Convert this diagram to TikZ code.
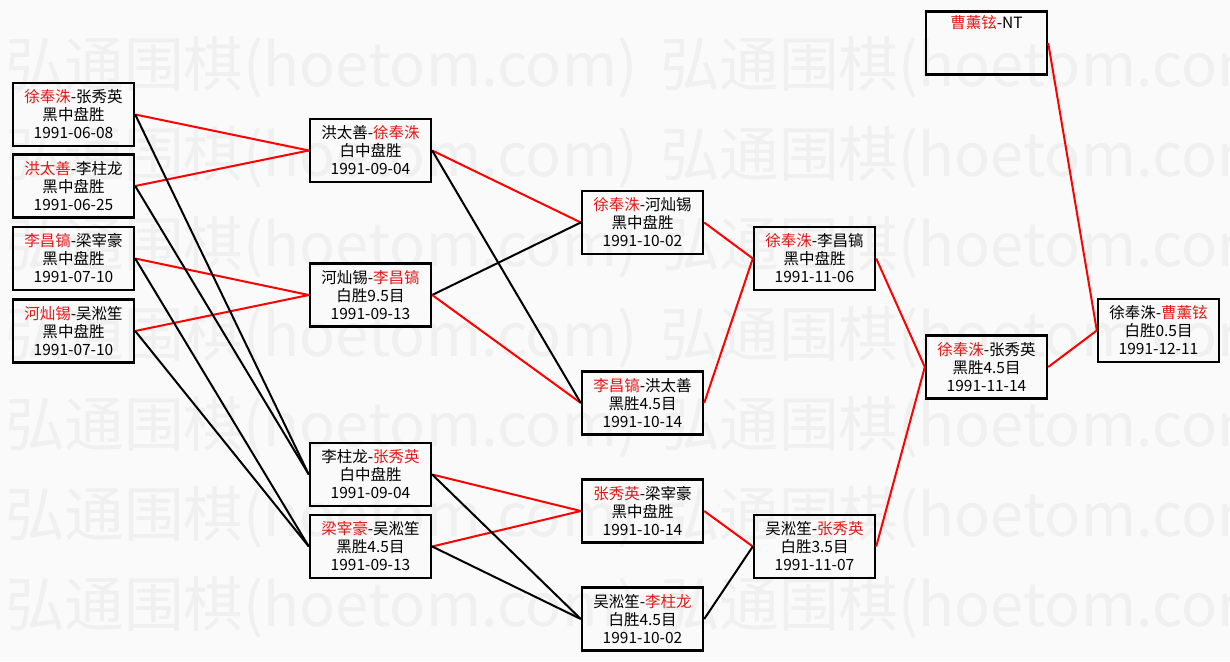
\documentclass[tikz,border=0pt]{standalone}
\usepackage{fontspec}
\newfontfamily\cjk{Noto Sans CJK SC}
\definecolor{bg}{RGB}{250,250,250}
\definecolor{wmark}{RGB}{240,240,240}
\definecolor{wred}{RGB}{255,0,0}
\definecolor{tred}{RGB}{228,24,24}
\newcommand{\R}[1]{\textcolor{tred}{#1}}
\begin{document}
\begin{tikzpicture}[x=1pt,y=-1pt,
  game/.style={draw=black, line width=2.4pt, minimum width=121pt, minimum height=63pt,
    inner sep=0pt, align=center, font=\cjk\fontsize{15.5}{18}\selectfont},
  winline/.style={draw=wred, line width=2pt},
  loseline/.style={draw=black, line width=2pt},
  wmtext/.style={anchor=west, text=wmark, inner sep=0pt, font=\cjk}]
\fill[bg] (0,0) rectangle (1230,661);
\useasboundingbox (0,0) rectangle (1230,661);
\clip (0,0) rectangle (1230,661);
% watermark
\foreach \r in {0,...,6}{
  \foreach \c in {0,1}{
    \node[wmtext] (wm-\r-\c) at (5+655*\c, 67+90*\r) {\resizebox{632pt}{!}{弘通围棋(hoetom.com)}};
  }
}
% round 1
\node[game] (A1) at (73.5,114.5) {\R{徐奉洙}-张秀英\\黑中盘胜\\1991-06-08};
\node[game] (A2) at (73.5,186)   {\R{洪太善}-李柱龙\\黑中盘胜\\1991-06-25};
\node[game] (A3) at (73.5,258.5) {\R{李昌镐}-梁宰豪\\黑中盘胜\\1991-07-10};
\node[game] (A4) at (73.5,331)   {\R{河灿锡}-吴淞笙\\黑中盘胜\\1991-07-10};
% round 2
\node[game] (B1) at (370.5,150.5) {洪太善-\R{徐奉洙}\\白中盘胜\\1991-09-04};
\node[game] (B2) at (370.5,295)   {河灿锡-\R{李昌镐}\\白胜9.5目\\1991-09-13};
\node[game] (B3) at (370.5,474.5) {李柱龙-\R{张秀英}\\白中盘胜\\1991-09-04};
\node[game] (B4) at (370.5,546.5) {\R{梁宰豪}-吴淞笙\\黑胜4.5目\\1991-09-13};
% round 3
\node[game] (C1) at (642.5,222.5) {\R{徐奉洙}-河灿锡\\黑中盘胜\\1991-10-02};
\node[game] (C2) at (642.5,403)   {\R{李昌镐}-洪太善\\黑胜4.5目\\1991-10-14};
\node[game] (C3) at (642.5,511)   {\R{张秀英}-梁宰豪\\黑中盘胜\\1991-10-14};
\node[game] (C4) at (642.5,619)   {吴淞笙-\R{李柱龙}\\白胜4.5目\\1991-10-02};
% round 4
\node[game] (D1) at (814.5,258.5) {\R{徐奉洙}-李昌镐\\黑中盘胜\\1991-11-06};
\node[game] (D2) at (814.5,546.5) {吴淞笙-\R{张秀英}\\白胜3.5目\\1991-11-07};
% round 5
\node[game] (E1) at (986.5,367) {\R{徐奉洙}-张秀英\\黑胜4.5目\\1991-11-14};
\node[game] (NT) at (986.5,43)  {\R{曹薰铉}-NT\\\strut\\\strut};
% final
\node[game] (F) at (1158.5,330.5) {徐奉洙-\R{曹薰铉}\\白胜0.5目\\1991-12-11};
% connectors
\draw[winline] (A1.east) -- (B1.west);
\draw[winline] (A2.east) -- (B1.west);
\draw[winline] (A3.east) -- (B2.west);
\draw[winline] (A4.east) -- (B2.west);
\draw[loseline] (A1.east) -- (B3.west);
\draw[loseline] (A2.east) -- (B3.west);
\draw[loseline] (A3.east) -- (B4.west);
\draw[loseline] (A4.east) -- (B4.west);
\draw[winline] (B1.east) -- (C1.west);
\draw[loseline] (B2.east) -- (C1.west);
\draw[winline] (B2.east) -- (C2.west);
\draw[loseline] (B1.east) -- (C2.west);
\draw[winline] (B3.east) -- (C3.west);
\draw[winline] (B4.east) -- (C3.west);
\draw[loseline] (B3.east) -- (C4.west);
\draw[loseline] (B4.east) -- (C4.west);
\draw[winline] (C1.east) -- (D1.west);
\draw[winline] (C2.east) -- (D1.west);
\draw[winline] (C3.east) -- (D2.west);
\draw[loseline] (C4.east) -- (D2.west);
\draw[winline] (D1.east) -- (E1.west);
\draw[winline] (D2.east) -- (E1.west);
\draw[winline] (E1.east) -- (F.west);
\draw[winline] (NT.east) -- (F.west);
\end{tikzpicture}
\end{document}
